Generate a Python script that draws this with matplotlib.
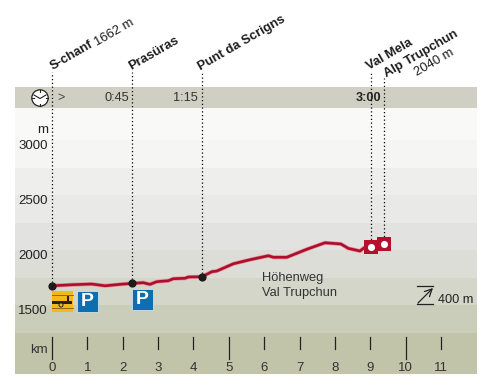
import matplotlib
matplotlib.use("Agg")
import matplotlib.pyplot as plt
from matplotlib.patches import Circle, Rectangle

plt.rcParams['font.family'] = ['Liberation Sans', 'DejaVu Sans']

# Elevation profile
route_km = [0.0, 0.6, 1.12, 1.5, 1.92, 2.27, 2.58, 2.77, 2.96, 3.29, 3.43, 3.76, 3.86, 4.24, 4.52,
            4.66, 5.13, 5.6, 6.12, 6.26, 6.64, 7.2, 7.72, 8.17, 8.38, 8.71, 8.83, 9.03, 9.4]
route_m = [1675, 1685, 1691, 1675, 1688, 1697, 1703, 1688, 1712, 1721, 1739, 1743, 1755, 1757, 1803,
           1809, 1875, 1912, 1948, 1934, 1934, 2006, 2066, 2055, 2015, 1991, 2021, 2030, 2052]

# Stops along the way
stop_km = [0.0, 2.27, 4.24]
stop_m = [1675, 1697, 1757]
hut_km = [9.03, 9.4]
hut_m = [2030, 2052]
guide_top_m = [3620, 3620, 3620, 3620, 3560]
guide_km = [0.0, 2.27, 4.24, 9.03, 9.4]
guide_m = [1675, 1697, 1757, 2030, 2052]

elev_ticks = [1500, 2000, 2500, 3000]
km_ticks = list(range(12))
long_ticks = [0, 5, 10]

band_edges = [873, 1250, 1500, 1750, 2000, 2250, 2500, 2750, 3000, 3291]
band_colors = ['#c2c4aa', '#cacdb9', '#d4d6ca', '#dcddd7', '#e2e3e0',
               '#e9e9e7', '#eeeeec', '#f5f5f3', '#f9f9f7']

fig = plt.figure(figsize=(4.92, 3.90), dpi=100)
ax = fig.add_axes([15 / 492, 16 / 390, 462 / 492, 287 / 390])
ax.set_xlim(-1.047, 12.02)
ax.set_ylim(873, 3482)
ax.axis('off')

# background bands
ax.axhspan(3291, 3482, color='#cfcfc4', lw=0)
for i in range(len(band_colors)):
    ax.axhspan(band_edges[i], band_edges[i + 1], color=band_colors[i], lw=0)

# dotted guides up to the place names
for i in range(len(guide_km)):
    ax.plot([guide_km[i], guide_km[i]], [guide_m[i], guide_top_m[i]], color='black', lw=0.9,
            ls=(0, (1, 2)), clip_on=False, zorder=2)

# route
ax.plot(route_km, route_m, color='#eb8d9b', lw=2.9, solid_capstyle='round', zorder=3)
ax.plot(route_km, route_m, color='#ab0f2c', lw=1.9, solid_capstyle='round', zorder=4)
ax.scatter(stop_km, stop_m, s=24, color='#1c1c1c', zorder=5)
ax.scatter(hut_km, hut_m, s=105, marker='s', color='#b50f2d', lw=0, zorder=5)
ax.scatter(hut_km, hut_m, s=26, color='white', lw=0, zorder=6)

# km axis
for k in km_ticks:
    low = 1010 if k in long_ticks else 1100
    ax.plot([k, k], [low, 1205], color='#222222', lw=0.9)
    ax.text(k, 925, str(k), ha='center', va='center', fontsize=9.5, color='#333333')

# overlay in pixel units for the labels and icons
ov = fig.add_axes([0, 0, 1, 1], zorder=10)
ov.set_xlim(0, 492)
ov.set_ylim(390, 0)
ov.axis('off')

ov.text(48, 350, 'km', ha='right', va='center', fontsize=9.5, color='#333333')
ov.text(48, 130, 'm', ha='right', va='center', fontsize=9.5, color='#222222')
for v in elev_ticks:
    y = 305 - (v - 1500) * 0.11
    ov.text(48, y + 6, str(v), ha='right', va='center', fontsize=9.5, color='#222222')

# time row
ov.text(57, 98, '>', ha='left', va='center', fontsize=9, color='#444444')
ov.text(129, 98, '0:45', ha='right', va='center', fontsize=9.2, color='#333333')
ov.text(198, 98, '1:15', ha='right', va='center', fontsize=9.2, color='#333333')
ov.text(381, 98, '3:00', ha='right', va='center', fontsize=9.2, color='#222222', fontweight='bold')

# clock
ov.add_patch(Circle((40, 98), 8.2, fc='white', ec='#222222', lw=0.9))
ov.plot([34, 40, 46], [95, 98.5, 95], color='#222222', lw=0.8)
for dx, dy in [(0, -8), (0, 8), (-8, 0), (8, 0)]:
    ov.plot([40 + dx * 0.8, 40 + dx], [98 + dy * 0.8, 98 + dy], color='#222222', lw=0.8)

# place names
angle = 30
name_style = dict(rotation=angle, rotation_mode='anchor', ha='left', va='baseline', fontsize=9.4, color='#1d1d1d')
ov.text(53, 70, 'S-chanf', fontweight='bold', **name_style)
ov.text(97, 46, '1662 m', **name_style)
ov.text(131, 70, 'Prasüras', fontweight='bold', **name_style)
ov.text(201, 70, 'Punt da Scrigns', fontweight='bold', **name_style)
ov.text(369, 70, 'Val Mela', fontweight='bold', **name_style)
ov.text(387, 77, 'Alp Trupchun', fontweight='bold', **name_style)
ov.text(417, 76, '2040 m', **name_style)

# route name
ov.text(262, 278, 'Höhenweg', ha='left', va='center', fontsize=9.3, color='#333333')
ov.text(262, 293, 'Val Trupchun', ha='left', va='center', fontsize=9.3, color='#333333')

# icons
ov.add_patch(Rectangle((52, 291), 21, 21, fc='#f5b81c', ec='none'))
ov.add_patch(Rectangle((52, 301), 20, 3, fc='#222222', ec='none'))
ov.add_patch(Rectangle((67, 296), 2, 8, fc='#222222', ec='none'))
ov.add_patch(Circle((61, 305), 2, fc='#f5b81c', ec='#222222', lw=0.7))
ov.plot([52, 73], [295, 295], color='#7a5a10', lw=0.6)
ov.plot([52, 73], [308, 308], color='#7a5a10', lw=0.6)
for x, y in [(77, 291), (132, 289)]:
    ov.add_patch(Rectangle((x, y), 21, 21, fc='#0f6fae', ec='#e6eef2', lw=0.5))
    ov.text(x + 10.5, y + 10.5, 'P', ha='center', va='center', fontsize=14, fontweight='bold', color='white')

# scale mark
ov.plot([417, 433], [286, 286], color='#222222', lw=0.9)
ov.plot([417, 433], [304, 304], color='#222222', lw=0.9)
ov.annotate('', xy=(433, 288), xytext=(418, 303),
            arrowprops=dict(arrowstyle='->', color='#222222', lw=0.9, shrinkA=0, shrinkB=0, mutation_scale=13))
ov.text(438, 300, '400 m', ha='left', va='center', fontsize=9.2, color='#222222')

fig.savefig('out.png', dpi=100)
